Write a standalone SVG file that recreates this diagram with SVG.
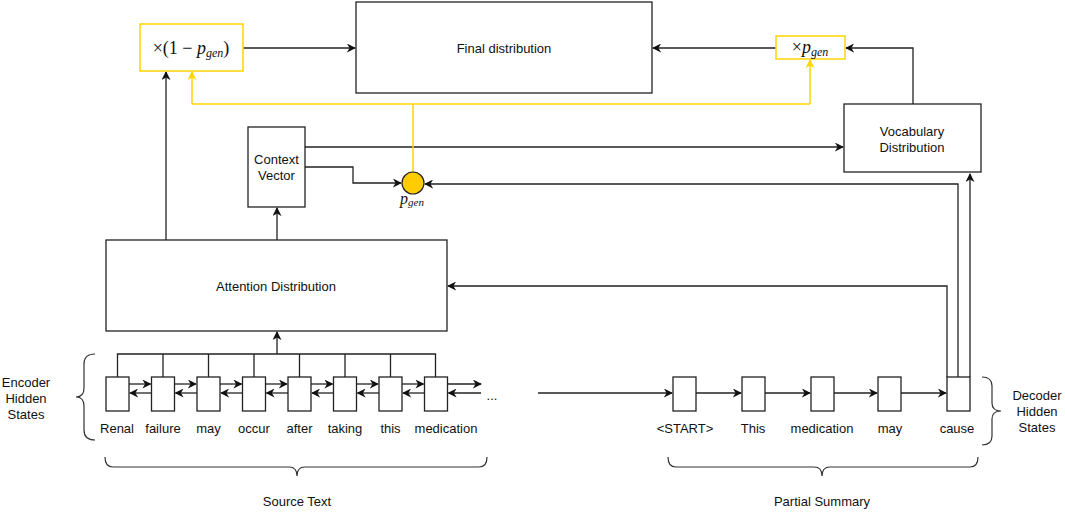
<svg xmlns="http://www.w3.org/2000/svg" width="1065" height="512" viewBox="0 0 1065 512">
<style>
.box{fill:#fff;stroke:#222;stroke-width:1.3}
.ybox{fill:#fff;stroke:#FFD400;stroke-width:1.5}
.ln{fill:none;stroke:#222;stroke-width:1.3}
.yl{fill:none;stroke:#FFD400;stroke-width:1.5}
.t{font-family:"Liberation Sans",Arial,sans-serif;font-size:13px;fill:#111;text-anchor:middle}
.m{font-family:"Liberation Serif","DejaVu Serif",serif;fill:#111;text-anchor:middle}
.br{fill:none;stroke:#333;stroke-width:1.2}
</style>
<defs>
<marker id="a" viewBox="0 0 10 10" refX="9" refY="5" markerWidth="9" markerHeight="9" markerUnits="userSpaceOnUse" orient="auto">
<path d="M0,0 L10,5 L0,10 L3,5 z" fill="#111"/>
</marker>
<marker id="ay" viewBox="0 0 10 10" refX="9" refY="5" markerWidth="9" markerHeight="9" markerUnits="userSpaceOnUse" orient="auto">
<path d="M0,0 L10,5 L0,10 L3,5 z" fill="#FFD400"/>
</marker>
</defs>
<rect width="1065" height="512" fill="#fff"/>

<g id="connectors">
<path class="ln" d="M243,48 H355" marker-end="url(#a)"/>
<path class="ln" d="M776,48 H653" marker-end="url(#a)"/>
<path class="ln" d="M913,104 V48 H846" marker-end="url(#a)"/>
<path class="ln" d="M166,240 V72" marker-end="url(#a)"/>
<path class="ln" d="M277,240 V208" marker-end="url(#a)"/>
<path class="ln" d="M305,147 H843" marker-end="url(#a)"/>
<path class="ln" d="M305,167 H353 V183 H401" marker-end="url(#a)"/>
<path class="ln" d="M958,377 V184 H425" marker-end="url(#a)"/>
<path class="ln" d="M970,377 V174" marker-end="url(#a)"/>
<path class="ln" d="M947,377 V286 H448" marker-end="url(#a)"/>
<path class="ln" d="M277,354 V332" marker-end="url(#a)"/>
<path class="ln" d="M117.5,377 V354 H435.5 V377 M163,354 V377 M208.5,354 V377 M254,354 V377 M299.5,354 V377 M345,354 V377 M390.5,354 V377"/>
<g id="enc-arrows">
<path class="ln" d="M129,384 H150.5" marker-end="url(#a)"/>
<path class="ln" d="M151.5,393 H130" marker-end="url(#a)"/>
<path class="ln" d="M174.5,384 H196" marker-end="url(#a)"/>
<path class="ln" d="M197,393 H175.5" marker-end="url(#a)"/>
<path class="ln" d="M220,384 H241.5" marker-end="url(#a)"/>
<path class="ln" d="M242.5,393 H221" marker-end="url(#a)"/>
<path class="ln" d="M265.5,384 H287" marker-end="url(#a)"/>
<path class="ln" d="M288,393 H266.5" marker-end="url(#a)"/>
<path class="ln" d="M311,384 H332.5" marker-end="url(#a)"/>
<path class="ln" d="M333.5,393 H312" marker-end="url(#a)"/>
<path class="ln" d="M356.5,384 H378" marker-end="url(#a)"/>
<path class="ln" d="M379,393 H357.5" marker-end="url(#a)"/>
<path class="ln" d="M402,384 H423.5" marker-end="url(#a)"/>
<path class="ln" d="M424.5,393 H403" marker-end="url(#a)"/>
<path class="ln" d="M447.5,384 H481" marker-end="url(#a)"/>
<path class="ln" d="M481,393 H448.5" marker-end="url(#a)"/>
</g>
<g id="dec-arrows">
<path class="ln" d="M538,393 H672" marker-end="url(#a)"/>
<path class="ln" d="M696,393 H741" marker-end="url(#a)"/>
<path class="ln" d="M765,393 H810" marker-end="url(#a)"/>
<path class="ln" d="M834,393 H877" marker-end="url(#a)"/>
<path class="ln" d="M901,393 H946" marker-end="url(#a)"/>
</g>
<g id="yellow">
<path class="yl" d="M413,172 V104"/>
<path class="yl" d="M192,104 H810"/>
<path class="yl" d="M192,104 V72" marker-end="url(#ay)"/>
<path class="yl" d="M810,104 V60" marker-end="url(#ay)"/>
</g>
</g>

<g id="mul-1-pgen">
<rect class="ybox" x="140" y="24" width="103" height="47"/>
<text class="m" x="191" y="54" font-size="18">×(1 − <tspan font-style="italic">p</tspan><tspan font-style="italic" font-size="12" dy="3">gen</tspan><tspan dy="-3">)</tspan></text>
</g>
<g id="final-distribution">
<rect class="box" x="356" y="2" width="296" height="91"/>
<text class="t" x="504" y="53">Final distribution</text>
</g>
<g id="mul-pgen">
<rect class="ybox" x="776" y="36" width="69" height="23"/>
<text class="m" x="810" y="53" font-size="18">×<tspan font-style="italic">p</tspan><tspan font-style="italic" font-size="12" dy="3">gen</tspan></text>
</g>
<g id="vocabulary-distribution">
<rect class="box" x="844" y="104" width="137" height="68"/>
<text class="t" x="912" y="136">Vocabulary</text>
<text class="t" x="912" y="152">Distribution</text>
</g>
<g id="context-vector">
<rect class="box" x="248" y="127" width="57" height="80"/>
<text class="t" x="276.5" y="164">Context</text>
<text class="t" x="276.5" y="180">Vector</text>
</g>
<g id="pgen">
<circle cx="413" cy="183" r="11" fill="#FFCC00" stroke="#222" stroke-width="1.2"/>
<text class="m" x="412" y="204" font-size="16"><tspan font-style="italic">p</tspan><tspan font-style="italic" font-size="11" dy="2">gen</tspan></text>
</g>
<g id="attention-distribution">
<rect class="box" x="106" y="240" width="341" height="91"/>
<text class="t" x="276" y="291">Attention Distribution</text>
</g>

<g id="encoder">
<rect class="box" x="106" y="377" width="23" height="34"/>
<rect class="box" x="151.5" y="377" width="23" height="34"/>
<rect class="box" x="197" y="377" width="23" height="34"/>
<rect class="box" x="242.5" y="377" width="23" height="34"/>
<rect class="box" x="288" y="377" width="23" height="34"/>
<rect class="box" x="333.5" y="377" width="23" height="34"/>
<rect class="box" x="379" y="377" width="23" height="34"/>
<rect class="box" x="424.5" y="377" width="23" height="34"/>
<text class="t" x="117" y="433">Renal</text>
<text class="t" x="163" y="433">failure</text>
<text class="t" x="208.5" y="433">may</text>
<text class="t" x="254" y="433">occur</text>
<text class="t" x="299.5" y="433">after</text>
<text class="t" x="345" y="433">taking</text>
<text class="t" x="390.5" y="433">this</text>
<text class="t" x="446" y="433">medication</text>
<text class="t" x="492" y="400">...</text>
</g>

<g id="decoder">
<rect class="box" x="673" y="377" width="23" height="34"/>
<rect class="box" x="742" y="377" width="23" height="34"/>
<rect class="box" x="811" y="377" width="23" height="34"/>
<rect class="box" x="878" y="377" width="23" height="34"/>
<rect class="box" x="947" y="377" width="23" height="34"/>
<text class="t" x="685" y="433">&lt;START&gt;</text>
<text class="t" x="753" y="433">This</text>
<text class="t" x="822" y="433">medication</text>
<text class="t" x="890" y="433">may</text>
<text class="t" x="957" y="433">cause</text>
</g>

<g id="encoder-label">
<path class="br" d="M95,354 Q84,354 84,364 V388 Q84,397 76,397 Q84,397 84,406 V430 Q84,440 95,440"/>
<text class="t" x="26" y="387">Encoder</text>
<text class="t" x="26" y="403">Hidden</text>
<text class="t" x="26" y="419">States</text>
</g>
<g id="decoder-label">
<path class="br" d="M982,377 Q992,377 992,386 V403 Q992,411 1001,411 Q992,411 992,419 V436 Q992,445 982,445"/>
<text class="t" x="1037" y="400">Decoder</text>
<text class="t" x="1037" y="416">Hidden</text>
<text class="t" x="1037" y="432">States</text>
</g>
<g id="source-text">
<path class="br" d="M105,457 Q105,467 113,467 H289 Q297,467 297,476 Q297,467 305,467 H479 Q487,467 487,457"/>
<text class="t" x="297" y="506">Source Text</text>
</g>
<g id="partial-summary">
<path class="br" d="M668,457 Q668,467 676,467 H814 Q822,467 822,476 Q822,467 830,467 H970 Q978,467 978,457"/>
<text class="t" x="822" y="506">Partial Summary</text>
</g>
</svg>
